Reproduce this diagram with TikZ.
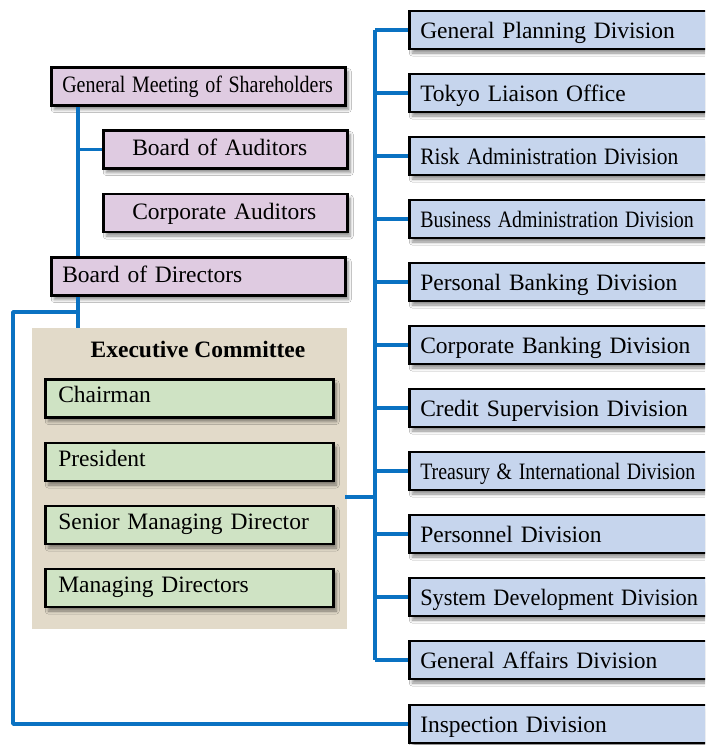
\documentclass[tikz,border=0pt]{standalone}
\usepackage{fontspec}
\usepackage{graphicx}
\setmainfont{Liberation Serif}
\usetikzlibrary{shadows.blur,calc}
\definecolor{purp}{RGB}{223,203,225}
\definecolor{bluef}{RGB}{198,213,237}
\definecolor{greenf}{RGB}{207,227,196}
\definecolor{beige}{RGB}{226,218,201}
\definecolor{linec}{RGB}{10,114,194}
\newcommand{\cnd}[2][0.86]{\scalebox{#1}[1]{#2}}
\tikzset{
  basebox/.style={rectangle, draw=black, line width=2.5pt, minimum height=38pt,
    inner xsep=11pt, inner ysep=0pt, anchor=west, align=left,
    text height=16pt, text depth=0pt,
    font=\fontsize{23.5}{26}\selectfont,
    blur shadow={shadow xshift=3pt, shadow yshift=-4pt, shadow blur radius=3pt, shadow opacity=45}},
  divbox/.style={basebox, fill=bluef, text width=300pt},
  purpbox/.style={basebox, fill=purp, text depth=4pt},
  grnbox/.style={basebox, fill=greenf, text width=262pt, inner xsep=13pt, text depth=8pt},
  conn/.style={draw=linec, line width=3.4pt, line join=round, line cap=butt}
}
\begin{document}
\begin{tikzpicture}[x=1pt,y=-1pt]
\clip (0,0) rectangle (705,745);
\fill[white] (0,0) rectangle (705,745);
% left column
\node[purpbox, text width=272pt] (gm) at (50,86.5) {\cnd[0.85]{General Meeting of Shareholders}};
\node[purpbox, text width=186pt, inner xsep=29pt] (ba) at (102,149.5) {Board of Auditors};
\node[purpbox, text width=186pt, inner xsep=29pt] (ca) at (102,213) {Corporate Auditors};
\node[purpbox, text width=272pt] (bd) at (50,276.5) {Board of Directors};
% executive committee
\node[rectangle, fill=beige, minimum width=315pt, minimum height=301pt, anchor=north west, inner sep=0pt] (exec) at (32,328) {};
\node[font=\fontsize{23.5}{26}\selectfont\bfseries, anchor=center] (exect) at (198,349) {Executive Committee};
\node[grnbox] (ch) at (44,398.5) {Chairman};
\node[grnbox] (pr) at (44,462) {President};
\node[grnbox] (sm) at (44,525) {Senior Managing Director};
\node[grnbox] (md) at (44,588) {Managing Directors};
% divisions
\node[divbox] (d0) at (408,30) {General Planning Division};
\node[divbox] (d1) at (408,93) {Tokyo Liaison Office};
\node[divbox] (d2) at (408,156) {\cnd[0.915]{Risk Administration Division}};
\node[divbox] (d3) at (408,219) {\cnd[0.848]{Business Administration Division}};
\node[divbox] (d4) at (408,282) {Personal Banking Division};
\node[divbox] (d5) at (408,345) {Corporate Banking Division};
\node[divbox] (d6) at (408,408) {Credit Supervision Division};
\node[divbox] (d7) at (408,471) {\cnd[0.845]{Treasury \& International Division}};
\node[divbox] (d8) at (408,534) {Personnel Division};
\node[divbox] (d9) at (408,597) {\cnd[0.95]{System Development Division}};
\node[divbox] (d10) at (408,660) {General Affairs Division};
\node[divbox] (insp) at (408,724) {Inspection Division};
% connectors
\coordinate (v1) at (78,0);
\coordinate (v2) at (375,0);
\coordinate (j1) at (78,312);
\coordinate (l1) at (13,312);
\coordinate (e1) at (345,497);
\draw[conn] (gm.south -| v1) -- (bd.north -| v1);
\draw[conn] (ba.west -| v1) -- (ba.west);
\draw[conn] (bd.south -| v1) -- (exec.north -| v1);
\draw[conn] (j1) -- (l1) |- (insp.west);
\draw[conn] (e1) -- (e1 -| v2);
\draw[conn] (d0.west -| v2) -- (d10.west -| v2);
\foreach \d in {d0,d1,d2,d3,d4,d5,d6,d7,d8,d9,d10}{
  \draw[conn] (\d.west -| v2) -- (\d.west);
}
\end{tikzpicture}
\end{document}
